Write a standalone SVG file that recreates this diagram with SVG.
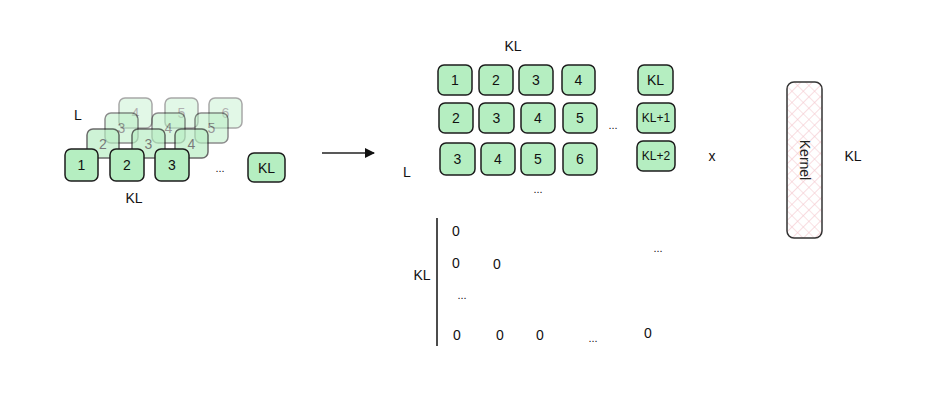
<svg xmlns="http://www.w3.org/2000/svg" width="931" height="404" viewBox="0 0 931 404">
<style>
.b{fill:#b5eec1;stroke:#1c1c1c;stroke-width:1.5}
.t{font-family:"Liberation Sans",Arial,sans-serif;font-size:14px;fill:#111;text-anchor:middle;dominant-baseline:central}
.s{font-size:12px}
.d{font-size:11px}
.g .t{fill:#333}
</style>
<defs>
<pattern id="hatch" width="8" height="8" patternUnits="userSpaceOnUse" patternTransform="rotate(45)">
<rect width="8" height="8" fill="#fff"/>
<path d="M0 0H8M0 0V8" stroke="#f4c6cc" stroke-width="1.2"/>
</pattern>
<marker id="ah" markerWidth="10" markerHeight="10" refX="9" refY="5" orient="auto" markerUnits="userSpaceOnUse">
<path d="M0 0L10 5L0 10Z" fill="#111"/>
</marker>
</defs>
<rect width="931" height="404" fill="#fff"/>

<g id="layer4" class="g" opacity="0.38">
<g id="l4n4"><rect class="b" x="119" y="98" width="33" height="30" rx="6"/><text class="t" x="135.5" y="113">4</text></g>
<g id="l4n5"><rect class="b" x="165" y="98" width="33" height="30" rx="6"/><text class="t" x="181.5" y="113">5</text></g>
<g id="l4n6"><rect class="b" x="209" y="98" width="33" height="30" rx="6"/><text class="t" x="225.5" y="113">6</text></g>
</g>
<g id="layer3" class="g" opacity="0.5">
<g id="l3n3"><rect class="b" x="105" y="113" width="33" height="30" rx="6"/><text class="t" x="121.5" y="128">3</text></g>
<g id="l3n4"><rect class="b" x="152" y="113" width="33" height="30" rx="6"/><text class="t" x="168.5" y="128">4</text></g>
<g id="l3n5"><rect class="b" x="195" y="113" width="33" height="30" rx="6"/><text class="t" x="211.5" y="128">5</text></g>
</g>
<g id="layer2" class="g" opacity="0.65">
<g id="l2n2"><rect class="b" x="87" y="129" width="32" height="29" rx="6"/><text class="t" x="103" y="143.5">2</text></g>
<g id="l2n3"><rect class="b" x="132" y="129" width="33" height="29" rx="6"/><text class="t" x="148.5" y="143.5">3</text></g>
<g id="l2n4"><rect class="b" x="175" y="129" width="33" height="29" rx="6"/><text class="t" x="191.5" y="143.5">4</text></g>
</g>
<g id="layer1">
<g id="l1n1"><rect class="b" x="65" y="149" width="33" height="32" rx="6"/><text class="t" x="81.5" y="165">1</text></g>
<g id="l1n2"><rect class="b" x="110" y="149" width="34" height="32" rx="6"/><text class="t" x="127" y="165">2</text></g>
<g id="l1n3"><rect class="b" x="155" y="149" width="34" height="32" rx="6"/><text class="t" x="172" y="165">3</text></g>
<g id="l1kl"><rect class="b" x="248" y="153" width="37" height="29" rx="6"/><text class="t" x="266.5" y="167.5">KL</text></g>
</g>
<g id="left-labels">
<text class="t" x="78" y="115">L</text>
<text class="t" x="134" y="198">KL</text>
<text class="t d" x="220" y="168">...</text>
</g>

<g id="connectors">
<line x1="322" y1="153" x2="374" y2="153" stroke="#222" stroke-width="1.5" marker-end="url(#ah)"/>
</g>

<g id="matrix">
<g id="r1c1"><rect class="b" x="438" y="65" width="34" height="30" rx="6"/><text class="t" x="455" y="80">1</text></g>
<g id="r1c2"><rect class="b" x="479" y="65" width="34" height="30" rx="6"/><text class="t" x="496" y="80">2</text></g>
<g id="r1c3"><rect class="b" x="519" y="65" width="34" height="30" rx="6"/><text class="t" x="536" y="80">3</text></g>
<g id="r1c4"><rect class="b" x="562" y="65" width="33" height="30" rx="6"/><text class="t" x="578.5" y="80">4</text></g>
<g id="r1kl"><rect class="b" x="638" y="65" width="35" height="30" rx="6"/><text class="t" x="655.5" y="80">KL</text></g>
<g id="r2c1"><rect class="b" x="439" y="103" width="34" height="30" rx="6"/><text class="t" x="456" y="118">2</text></g>
<g id="r2c2"><rect class="b" x="479" y="103" width="35" height="30" rx="6"/><text class="t" x="496.5" y="118">3</text></g>
<g id="r2c3"><rect class="b" x="521" y="103" width="34" height="30" rx="6"/><text class="t" x="538" y="118">4</text></g>
<g id="r2c4"><rect class="b" x="563" y="103" width="34" height="30" rx="6"/><text class="t" x="580" y="118">5</text></g>
<g id="r2kl"><rect class="b" x="637" y="103" width="38" height="30" rx="6"/><text class="t s" x="656" y="118">KL+1</text></g>
<g id="r3c1"><rect class="b" x="440" y="143" width="35" height="32" rx="6"/><text class="t" x="457.5" y="159">3</text></g>
<g id="r3c2"><rect class="b" x="481" y="143" width="34" height="32" rx="6"/><text class="t" x="498" y="159">4</text></g>
<g id="r3c3"><rect class="b" x="521" y="143" width="34" height="32" rx="6"/><text class="t" x="538" y="159">5</text></g>
<g id="r3c4"><rect class="b" x="563" y="143" width="34" height="32" rx="6"/><text class="t" x="580" y="159">6</text></g>
<g id="r3kl"><rect class="b" x="637" y="141" width="38" height="30" rx="6"/><text class="t s" x="656" y="156">KL+2</text></g>
</g>
<g id="matrix-labels">
<text class="t" x="513" y="46">KL</text>
<text class="t" x="407" y="172">L</text>
<text class="t d" x="613" y="125">...</text>
<text class="t d" x="538" y="189">...</text>
<text class="t" x="712" y="156">x</text>
</g>

<g id="kernel">
<rect x="787" y="82" width="35" height="156" rx="7" fill="url(#hatch)" stroke="#333" stroke-width="1.5"/>
<text class="t" x="0" y="0" transform="translate(805,160) rotate(90)" style="fill:#222">Kernel</text>
</g>
<text class="t" x="853" y="156">KL</text>

<g id="zero-matrix">
<line x1="437" y1="218" x2="437" y2="346" stroke="#111" stroke-width="1.5"/>
<text class="t" x="422" y="275">KL</text>
<text class="t" x="456" y="231">0</text>
<text class="t" x="456" y="263">0</text>
<text class="t" x="497" y="264">0</text>
<text class="t d" x="462" y="295">...</text>
<text class="t d" x="658" y="248">...</text>
<text class="t" x="457" y="335">0</text>
<text class="t" x="500" y="335">0</text>
<text class="t" x="540" y="335">0</text>
<text class="t d" x="593" y="338">...</text>
<text class="t" x="648" y="333">0</text>
</g>
</svg>
